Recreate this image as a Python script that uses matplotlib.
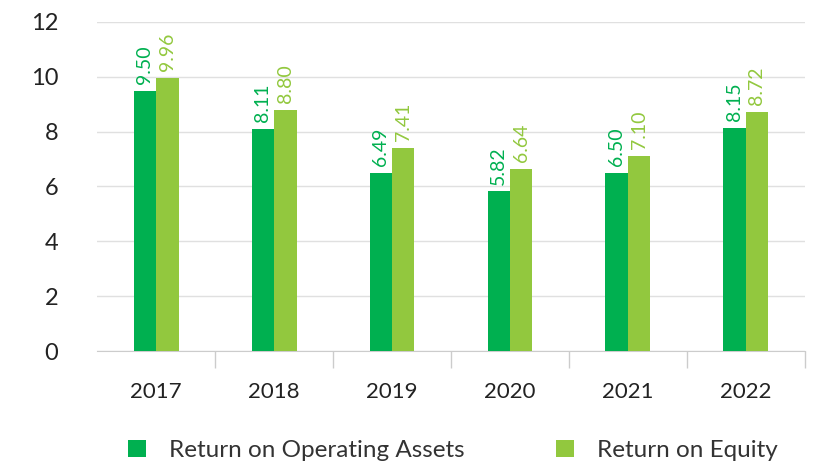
import numpy as np
import matplotlib.pyplot as plt

years = ['2017', '2018', '2019', '2020', '2021', '2022']
roa = [9.50, 8.11, 6.49, 5.82, 6.50, 8.15]
roe = [9.96, 8.80, 7.41, 6.64, 7.10, 8.72]

dark_green = '#00B050'
light_green = '#92C83E'

plt.rcParams['font.family'] = ['Lato', 'DejaVu Sans']

fig = plt.figure(figsize=(8.17, 4.68), dpi=100)
ax = fig.add_axes([0.119, 0.25, 0.866, 0.703])

x = np.arange(len(years))
w = 0.19
b1 = ax.bar(x - w / 2, roa, w, color=dark_green, label='Return on Operating Assets', zorder=3)
b2 = ax.bar(x + w / 2, roe, w, color=light_green, label='Return on Equity', zorder=3)

# value labels, rotated like the original
for rect, v in zip(b1, roa):
    ax.text(rect.get_x() + rect.get_width() / 2, v + 0.25, f'{v:.2f}', rotation=90,
            ha='center', va='bottom', color=dark_green, fontsize=14)
for rect, v in zip(b2, roe):
    ax.text(rect.get_x() + rect.get_width() / 2, v + 0.25, f'{v:.2f}', rotation=90,
            ha='center', va='bottom', color=light_green, fontsize=14)

ax.set_xlim(-0.5, len(years) - 0.5)
ax.set_ylim(0, 12)
ax.set_yticks(range(0, 13, 2))
ax.grid(axis='y', color='#e0e0e0', linewidth=1, zorder=0)

ax.set_xticks(x)
ax.set_xticklabels(years)
ax.set_xticks(np.arange(0.5, len(years), 1), minor=True)
ax.tick_params(axis='x', which='major', length=0, pad=22, labelsize=16, colors='#222222')
ax.tick_params(axis='x', which='minor', length=12, color='#cccccc', width=1)
ax.tick_params(axis='y', length=0, pad=28, labelsize=17, colors='#222222')

for s in ['top', 'right', 'left']:
    ax.spines[s].set_visible(False)
ax.spines['bottom'].set_color('#cccccc')

fig.legend(loc='center', bbox_to_anchor=(0.554, 0.038), ncol=2, frameon=False,
           fontsize=17.5, handlelength=0.74, handleheight=0.74, columnspacing=3.75,
           handletextpad=0.95, labelcolor='#333333')

fig.savefig('out.png', dpi=100)
